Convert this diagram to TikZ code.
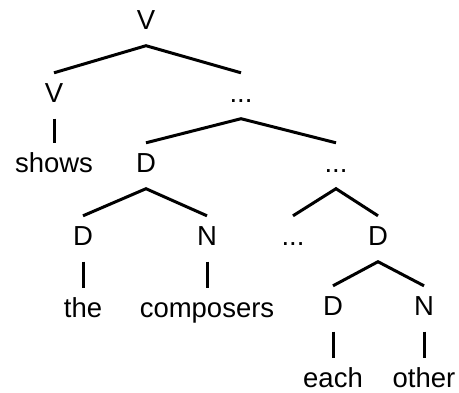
\documentclass[tikz,border=0pt]{standalone}
\usepackage{fontspec}
\setmainfont{Liberation Sans}
\begin{document}
\begin{tikzpicture}[x=1pt,y=-1pt,
  lab/.style={anchor=base,inner sep=0pt,text height=29pt,text depth=16.5pt,
    font=\fontsize{27.5}{32}\selectfont},
  branch/.style={line width=3pt}]
\useasboundingbox (0,0) rectangle (459,392);
% categories and words
\node[lab] (root)  at (146,29)  {V};
\node[lab] (vl)    at (54,102)  {V};
\node[lab] (e1)    at (241,102) {...};
\node[lab] (shows) at (54,172)  {shows};
\node[lab] (d1)    at (146,172) {D};
\node[lab] (e2)    at (336,172) {...};
\node[lab] (dthe)  at (83,245)  {D};
\node[lab] (ncomp) at (207,245) {N};
\node[lab] (e3)    at (293,245) {...};
\node[lab] (d2)    at (378,245) {D};
\node[lab] (the)   at (83,317)  {the};
\node[lab] (comp)  at (207,317) {composers};
\node[lab] (d3)    at (333,315) {D};
\node[lab] (n3)    at (424,315) {N};
\node[lab] (each)  at (333,387) {each};
\node[lab] (other) at (424,387) {other};
% branches
\draw[branch] (vl.north) -- (root.south) -- (e1.north);
\draw[branch] (vl.south) -- (shows.north);
\draw[branch] (d1.north) -- (e1.south) -- (e2.north);
\draw[branch] (dthe.north) -- (d1.south) -- (ncomp.north);
\draw[branch] (e3.north) -- (e2.south) -- (d2.north);
\draw[branch] (dthe.south) -- (the.north);
\draw[branch] (ncomp.south) -- (comp.north);
\draw[branch] (d3.north) -- (d2.south) -- (n3.north);
\draw[branch] (d3.south) -- (each.north);
\draw[branch] (n3.south) -- (other.north);
\end{tikzpicture}
\end{document}
